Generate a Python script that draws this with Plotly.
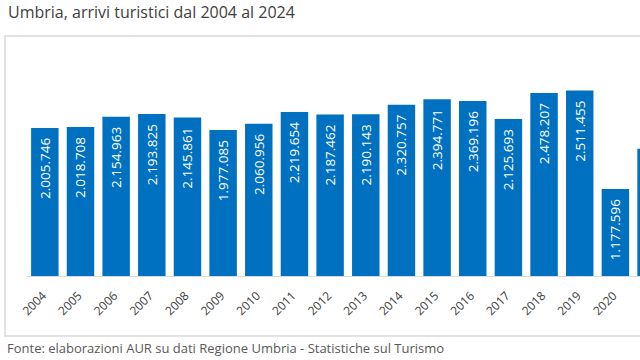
import plotly.graph_objects as go

years = ["2004", "2005", "2006", "2007", "2008", "2009", "2010", "2011", "2012",
         "2013", "2014", "2015", "2016", "2017", "2018", "2019", "2020", "2021"]
arrivals = [2005746, 2018708, 2154963, 2193825, 2145861, 1977085, 2060956, 2219654,
            2187462, 2190143, 2320757, 2394771, 2369196, 2125693, 2478207, 2511455,
            1177596, 1724000]
labels = [f"{v:,}".replace(",", ".") for v in arrivals]
# the 2021 bar is cut by the right edge of the picture, so its label is not shown
labels[-1] = ""

title_text = "Umbria, arrivi turistici dal 2004 al 2024"
source_text = "Fonte: elaborazioni AUR su dati Regione Umbria - Statistiche sul Turismo"

W, H = 640, 360
ML, MR, MT, MB = 27, 0, 40, 84
PW, PH = W - ML - MR, H - MT - MB

fig = go.Figure(go.Bar(
    x=years, y=arrivals, text=[lab + "\u00a0\u00a0" if lab else "" for lab in labels],
    textposition="inside", insidetextanchor="end", textangle=-90,
    textfont=dict(family="Open Sans", size=13.5, color="white"),
    marker=dict(color="#0070C0", line=dict(width=0)),
    cliponaxis=True,
))

fig.update_layout(
    width=W, height=H,
    margin=dict(l=ML, r=MR, t=MT, b=MB, autoexpand=False),
    paper_bgcolor="white", plot_bgcolor="white",
    bargap=0.23,
    showlegend=False,
    font=dict(family="Open Sans", color="#404040"),
    xaxis=dict(type="category", range=[-0.5, 16.69], showgrid=False,
               showline=True, linecolor="#D9D9D9", linewidth=1,
               ticks="", tickangle=-45, ticklabelstandoff=7, ticklabelshift=-2,
               tickfont=dict(family="Open Sans", size=12, color="#404040")),
    yaxis=dict(range=[0, 3196000], visible=False),
    annotations=[
        dict(text=title_text, xref="paper", yref="paper", x=-21 / PW, y=1 + 27.5 / PH,
             xanchor="left", yanchor="middle", showarrow=False,
             font=dict(family="Open Sans", size=16, color="#404040")),
        dict(text=source_text, xref="paper", yref="paper", x=-22 / PW, y=-(348 - (H - MB)) / PH,
             xanchor="left", yanchor="middle", showarrow=False,
             font=dict(family="Open Sans", size=13, color="#595959")),
    ],
    shapes=[
        dict(type="rect", xref="paper", yref="paper",
             x0=-22 / PW, x1=1.1,
             y0=-(336 - (H - MB)) / PH, y1=1 + 4 / PH,
             line=dict(color="#D9D9D9", width=1.5), fillcolor="rgba(0,0,0,0)", layer="below"),
    ],
)

fig.write_html("out.html")
